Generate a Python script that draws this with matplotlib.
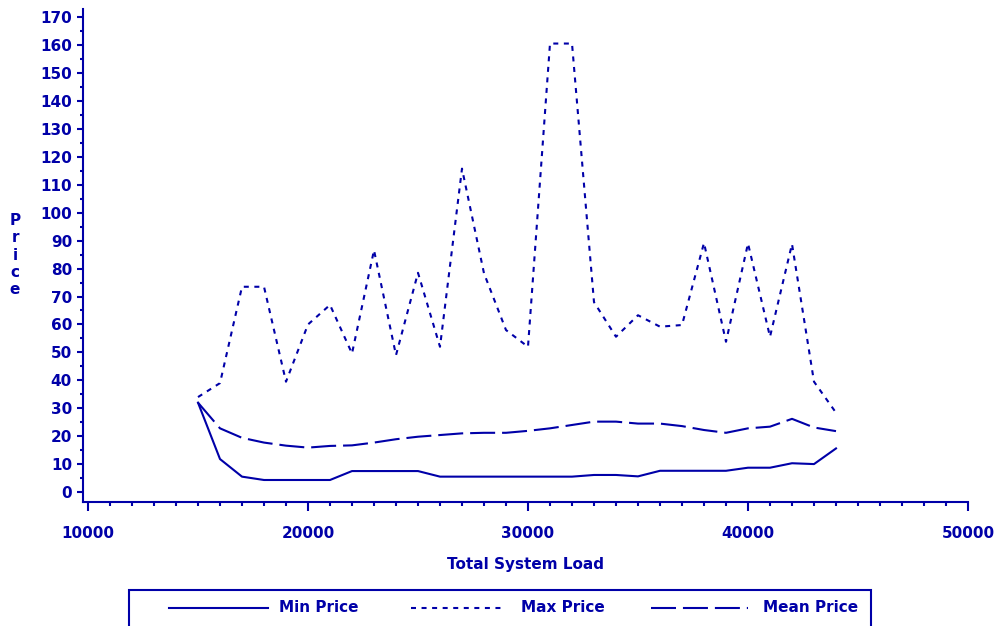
import matplotlib
matplotlib.use("Agg")
import matplotlib.pyplot as plt
from matplotlib.lines import Line2D
from matplotlib.patches import Rectangle
from matplotlib.ticker import MultipleLocator

load = [15000, 16000, 17000, 18000, 19000, 20000, 21000, 22000, 23000, 24000,
        25000, 26000, 27000, 28000, 29000, 30000, 31000, 32000, 33000, 34000,
        35000, 36000, 37000, 38000, 39000, 40000, 41000, 42000, 43000, 44000]
min_price = [32, 11.8, 5.5, 4.3, 4.3, 4.3, 4.3, 7.5, 7.5, 7.5,
             7.5, 5.5, 5.5, 5.5, 5.5, 5.5, 5.5, 5.5, 6.1, 6.1,
             5.6, 7.6, 7.6, 7.6, 7.6, 8.7, 8.7, 10.3, 10.0, 15.6]
max_price = [34, 39, 73.5, 73.5, 39.5, 60, 67, 49.6, 86.6, 49,
             78.5, 52, 115.8, 78.3, 58, 52, 160.6, 160.6, 68, 55.6,
             63.3, 59.2, 59.8, 89.2, 53.8, 89, 55.6, 88.8, 39.5, 28.4]
mean_price = [32, 22.8, 19.4, 17.7, 16.6, 15.9, 16.5, 16.7, 17.7, 18.9,
              19.8, 20.4, 21, 21.2, 21.2, 21.9, 22.8, 24, 25.2, 25.2,
              24.5, 24.5, 23.6, 22.2, 21.2, 22.8, 23.4, 26.2, 23.1, 21.8]
labels = ["Min Price", "Max Price", "Mean Price"]

plt.rcParams['font.family'] = ['DejaVu Sans']
plt.rcParams['font.weight'] = 'bold'
plt.rcParams['lines.scale_dashes'] = False

C = '#0000A8'
W, H = 996, 626
fig = plt.figure(figsize=(W / 100, H / 100), dpi=100)
ax = fig.add_axes([83 / W, (H - 502) / H, (968 - 83) / W, (502 - 9) / H])

styles = ['-', (0, (3.6, 4.0)), (0, (18, 5))]
series = [min_price, max_price, mean_price]
for s, ls in zip(series, styles):
    ax.plot(load, s, color=C, lw=1.5, linestyle=ls)

ax.set_xlim(9772.7, 50000)
ax.set_ylim(-3.58, 172.97)
ax.xaxis.set_major_locator(MultipleLocator(10000))
ax.xaxis.set_minor_locator(MultipleLocator(1000))
ax.yaxis.set_major_locator(MultipleLocator(10))
ax.yaxis.set_minor_locator(MultipleLocator(5))
for sp in ['top', 'right']:
    ax.spines[sp].set_visible(False)
for sp in ['left', 'bottom']:
    ax.spines[sp].set_color(C)
    ax.spines[sp].set_linewidth(1.5)
ax.tick_params(axis='x', which='major', length=6.5, width=1.5, color=C,
               labelcolor=C, labelsize=11, pad=10.5)
ax.tick_params(axis='x', which='minor', length=3, width=1.5, color=C)
ax.tick_params(axis='y', which='major', length=4.3, width=1.5, color=C,
               labelcolor=C, labelsize=11, pad=3.6)
ax.tick_params(axis='y', which='minor', length=2.2, width=1.5, color=C)
for lab in ax.get_xticklabels() + ax.get_yticklabels():
    lab.set_fontweight('bold')

fig.text(525 / W, (H - 565) / H, "Total System Load", color=C, fontsize=11,
         fontweight='bold', ha='center', va='center')
fig.text(15 / W, (H - 255) / H, "P\nr\ni\nc\ne", color=C, fontsize=11,
         fontweight='bold', ha='center', va='center', linespacing=1.2)

# legend box
fig.patches.append(Rectangle((129 / W, -0.05), (871 - 129) / W, (H - 590) / H + 0.05,
                             transform=fig.transFigure, fill=False, edgecolor=C,
                             lw=1.5))
ly = (H - 608) / H
handles = [(169, 268, 279), (411, 505, 521), (651, 748, 763)]
for (x0, x1, tx), ls, lab in zip(handles, styles, labels):
    fig.lines.append(Line2D([x0 / W, x1 / W], [ly, ly], transform=fig.transFigure,
                            color=C, lw=1.5, linestyle=ls))
    fig.text(tx / W, ly, lab, color=C, fontsize=11, fontweight='bold',
             ha='left', va='center')

fig.savefig("out.png", dpi=100)
